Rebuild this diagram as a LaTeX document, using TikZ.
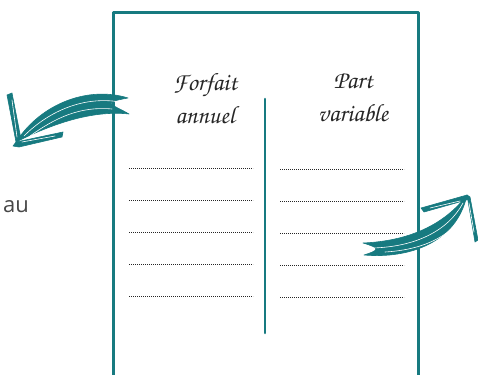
\documentclass[tikz,border=0pt]{standalone}
\usepackage{fontspec}
\usepackage[T1,TU]{fontenc}
\usepackage{xcolor}
\definecolor{sarcelle}{RGB}{23, 122, 128}
\newfontfamily\ausans{Open Sans}
\newcommand{\headfont}{\fontencoding{T1}\fontfamily{pzc}\selectfont}

\begin{document}
\begin{tikzpicture}[x=1pt, y=-1pt, line cap=round, line join=round,
  cadre/.style={draw=sarcelle, line width=3pt},
  sep/.style={draw=sarcelle, line width=2.6pt},
  pointille/.style={draw=black!85, line width=1pt, line cap=butt, dash pattern=on 0.9pt off 1.1pt},
  titre/.style={font=\headfont\fontsize{25}{33}\selectfont, align=center, text=black!85},
  encre/.style={fill=sarcelle, draw=sarcelle, line width=0.6pt},
  trait/.style={draw=white, line width=0.6pt}]
  \useasboundingbox (0,0) rectangle (478,374);
  \clip (0,0) rectangle (478,374);
  % cadre de la fiche
  \coordinate (hg) at (113,13);
  \coordinate (hd) at (418,13);
  \draw[cadre] (113,380) -- (hg) -- (hd) -- (418,380);
  \node[titre] (forfait) at (205,98) {Forfait\\annuel};
  \node[titre] (part) at (353,98) {Part\\variable};
  \coordinate (septop) at (265,99);
  \coordinate (sepbot) at (265,333);
  \draw[sep] (septop) -- (sepbot);
  % lignes a remplir
  \foreach \y in {168,200,232,264,296} {
    \draw[pointille] (129,\y) -- (253,\y);
    \draw[pointille] (280,\y+1) -- (404,\y+1);
  }
  \node[anchor=base west, font=\ausans\fontsize{22}{26}\selectfont, text=black!72, inner sep=0pt] (au) at (3,212) {au};
  % fleche gauche
  \coordinate (gtip) at (16,142);
  \fill[encre] (128,98) .. controls (90,86) and (42,102) .. (gtip)
    .. controls (52,124) and (92,110) .. (129,114)
    .. controls (112,104) and (100,103) .. (128,98) -- cycle;
  \draw[trait] (120,102) .. controls (85,96) and (50,110) .. (24,136);
  \draw[trait] (112,109) .. controls (80,106) and (55,118) .. (30,136);
  \fill[encre] (7,95) -- (12,93) -- (21,139) -- (gtip) -- cycle;
  \fill[encre] (gtip) -- (63,132) -- (62,137) -- (19,147) -- (13,146) -- cycle;
  \draw[trait] (12,100) -- (17,137);
  \draw[trait] (22,142) -- (55,136);
  % fleche droite
  \coordinate (dtip) at (467,195);
  \fill[encre] (363,243) .. controls (410,241) and (445,224) .. (dtip)
    .. controls (457,242) and (410,259) .. (364,255)
    .. controls (380,250) and (380,248) .. (363,243) -- cycle;
  \draw[trait] (372,248) .. controls (415,247) and (448,231) .. (463,203);
  \draw[trait] (385,252) .. controls (420,250) and (452,238) .. (466,210);
  \fill[encre] (dtip) -- (470,199) -- (424,212) -- (421,208) -- cycle;
  \fill[encre] (dtip) -- (470,197) -- (478,240) -- (475,242) -- cycle;
  \draw[trait] (460,201) -- (430,208);
  \draw[trait] (469,203) -- (474,232);
\end{tikzpicture}
\end{document}
